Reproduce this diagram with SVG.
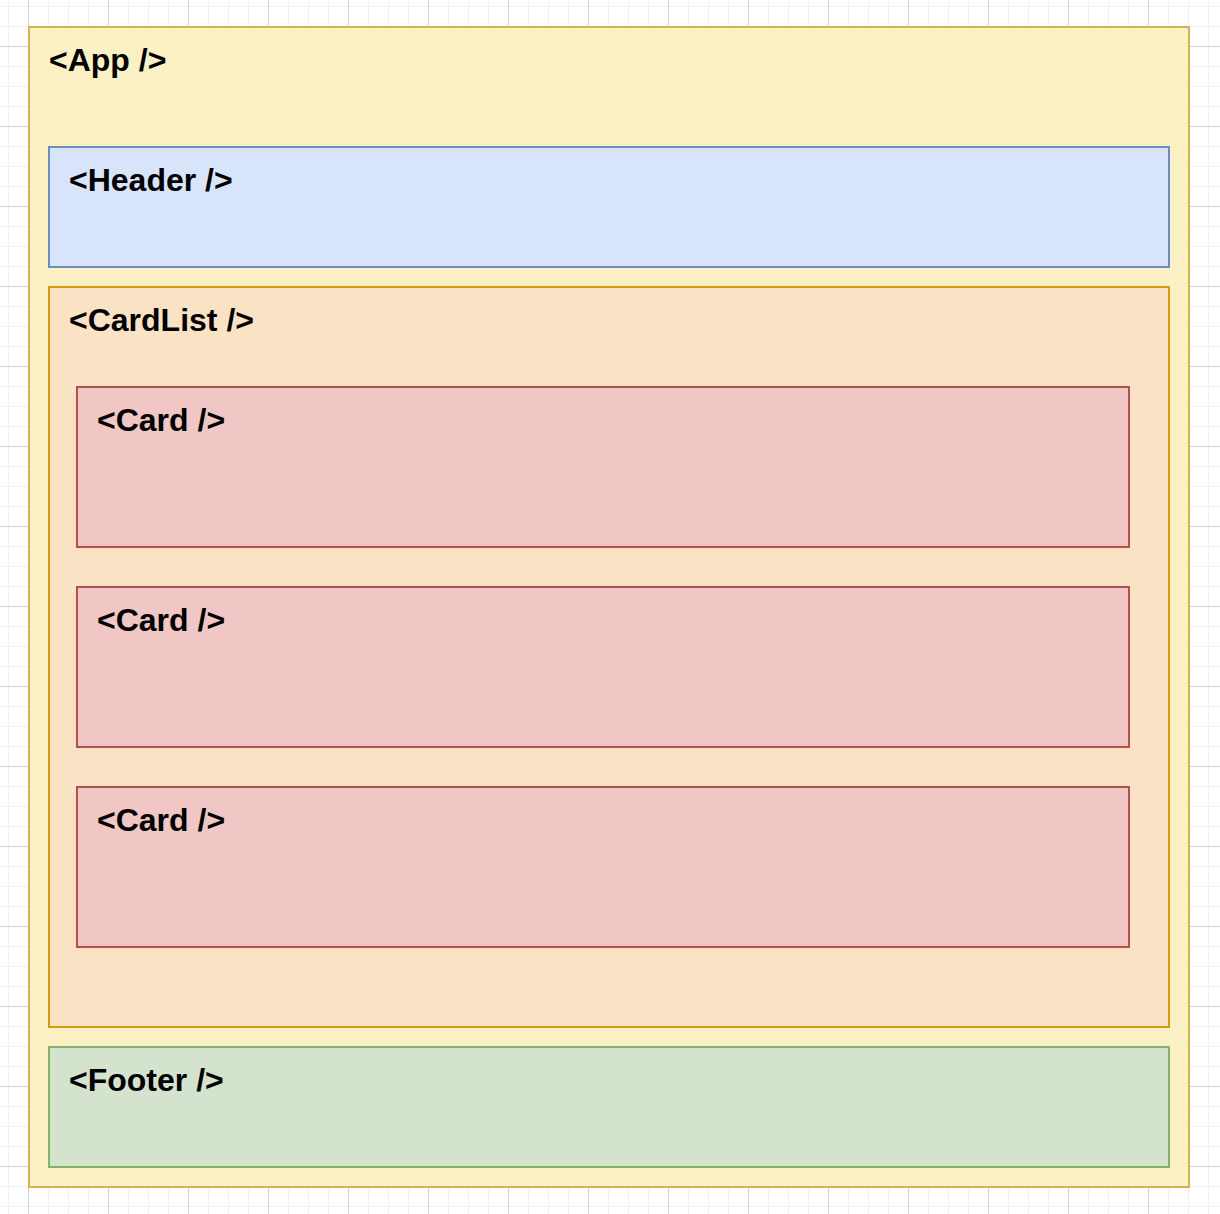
<svg xmlns="http://www.w3.org/2000/svg" width="1220" height="1214" viewBox="0 0 1220 1214">
  <defs>
    <pattern id="minor" x="8" y="6" width="20" height="20" patternUnits="userSpaceOnUse">
      <path d="M0.5 0 V20 M0 0.5 H20" stroke="#f0f0f0" stroke-width="1" fill="none"/>
    </pattern>
    <pattern id="major" x="28" y="46" width="80" height="80" patternUnits="userSpaceOnUse">
      <path d="M0.5 0 V80 M0 0.5 H80" stroke="#d3d3d3" stroke-width="1" fill="none"/>
    </pattern>
  </defs>
  <style>
    .lbl { font-family: "Liberation Sans", Arial, Helvetica, sans-serif; font-weight: bold; font-size: 32px; fill: #000000; }
    rect.box { stroke-width: 2; }
    .app { fill: #fcf0c5; stroke: #d1b455; }
    .header { fill: #d8e4fa; stroke: #6c8ebf; }
    .cardlist { fill: #fae3c4; stroke: #d39b10; }
    .card { fill: #f0c7c5; stroke: #b0514e; }
    .footer { fill: #d3e3cd; stroke: #82b366; }
  </style>
  <rect x="0" y="0" width="1220" height="1214" fill="#ffffff"/>
  <rect x="0" y="0" width="1220" height="1214" fill="url(#minor)"/>
  <rect x="0" y="0" width="1220" height="1214" fill="url(#major)"/>

  <g id="app">
    <rect class="box app" x="29" y="27" width="1160" height="1160"/>
    <text class="lbl" x="49" y="71">&lt;App /&gt;</text>
  </g>
  <g id="header">
    <rect class="box header" x="49" y="147" width="1120" height="120"/>
    <text class="lbl" x="69" y="191">&lt;Header /&gt;</text>
  </g>
  <g id="cardlist">
    <rect class="box cardlist" x="49" y="287" width="1120" height="740"/>
    <text class="lbl" x="69" y="331">&lt;CardList /&gt;</text>
  </g>
  <g id="card1">
    <rect class="box card" x="77" y="387" width="1052" height="160"/>
    <text class="lbl" x="97" y="431">&lt;Card /&gt;</text>
  </g>
  <g id="card2">
    <rect class="box card" x="77" y="587" width="1052" height="160"/>
    <text class="lbl" x="97" y="631">&lt;Card /&gt;</text>
  </g>
  <g id="card3">
    <rect class="box card" x="77" y="787" width="1052" height="160"/>
    <text class="lbl" x="97" y="831">&lt;Card /&gt;</text>
  </g>
  <g id="footer">
    <rect class="box footer" x="49" y="1047" width="1120" height="120"/>
    <text class="lbl" x="69" y="1091">&lt;Footer /&gt;</text>
  </g>
  <g id="connectors"></g>
</svg>
